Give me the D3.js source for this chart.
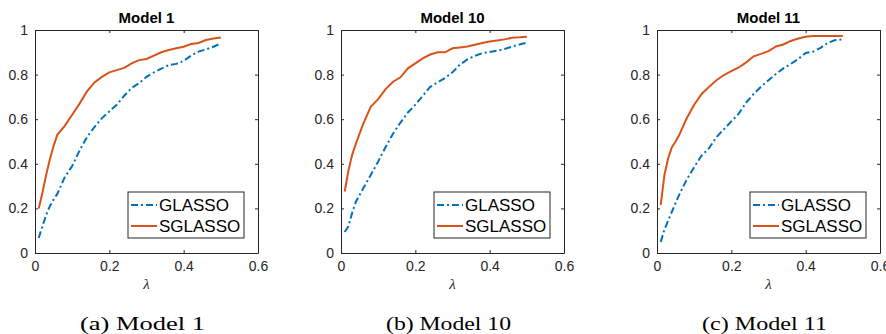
<!DOCTYPE html>
<html>
<head>
<meta charset="utf-8">
<script src="https://cdn.jsdelivr.net/npm/d3@7"></script>
<style>
  body { margin: 0; background: #fff; }
  svg { display: block; }
  .sans { font-family: "Liberation Sans", Arial, Helvetica, sans-serif; }
  .serif { font-family: "Liberation Serif", "Times New Roman", serif; }
</style>
</head>
<body>
<div id="chart"></div>
<script>
// lambda grid shared by all three panels
const lambdas = [0.01, 0.02, 0.03, 0.04, 0.05, 0.06, 0.08, 0.10, 0.12, 0.14, 0.16, 0.18, 0.20, 0.22,
                 0.24, 0.26, 0.28, 0.30, 0.32, 0.34, 0.36, 0.38, 0.40, 0.42, 0.44, 0.46, 0.48, 0.50];

// Model 1
const m1Glasso  = [0.067, 0.12, 0.17, 0.21, 0.24, 0.265, 0.34, 0.39, 0.46, 0.52, 0.565, 0.605, 0.635, 0.665,
                   0.705, 0.74, 0.762, 0.79, 0.81, 0.827, 0.843, 0.848, 0.862, 0.885, 0.903, 0.913, 0.925, 0.94];
const m1Sglasso = [0.20, 0.27, 0.35, 0.42, 0.48, 0.53, 0.57, 0.62, 0.67, 0.725, 0.765, 0.79, 0.81, 0.82,
                   0.83, 0.85, 0.865, 0.87, 0.885, 0.90, 0.91, 0.918, 0.925, 0.937, 0.942, 0.955, 0.962, 0.966];
// Model 10
const m10Glasso  = [0.094, 0.12, 0.18, 0.23, 0.26, 0.29, 0.35, 0.41, 0.475, 0.535, 0.585, 0.63, 0.665, 0.705,
                    0.745, 0.765, 0.785, 0.81, 0.845, 0.868, 0.884, 0.896, 0.901, 0.907, 0.915, 0.925, 0.935, 0.943];
const m10Sglasso = [0.276, 0.37, 0.44, 0.49, 0.535, 0.58, 0.655, 0.69, 0.735, 0.768, 0.788, 0.828, 0.85, 0.873,
                    0.89, 0.90, 0.90, 0.918, 0.922, 0.926, 0.934, 0.942, 0.948, 0.953, 0.958, 0.965, 0.967, 0.97];
// Model 11
const m11Glasso  = [0.05, 0.105, 0.145, 0.185, 0.225, 0.262, 0.33, 0.385, 0.437, 0.47, 0.52, 0.555, 0.59, 0.625,
                    0.675, 0.713, 0.746, 0.775, 0.803, 0.828, 0.848, 0.87, 0.897, 0.903, 0.92, 0.943, 0.955, 0.958];
const m11Sglasso = [0.216, 0.35, 0.425, 0.475, 0.50, 0.53, 0.604, 0.665, 0.713, 0.745, 0.775, 0.798, 0.816, 0.832,
                    0.855, 0.882, 0.893, 0.905, 0.926, 0.935, 0.951, 0.962, 0.97, 0.973, 0.973, 0.973, 0.973, 0.973];

const panelTitles = ["Model 1", "Model 10", "Model 11"];
const captions = ["(a) Model 1", "(b) Model 10", "(c) Model 11"];
const seriesNames = ["GLASSO", "SGLASSO"];
const xTicks = [0, 0.2, 0.4, 0.6];
const yTicks = [0, 0.2, 0.4, 0.6, 0.8, 1];

const panels = [
    { glasso: m1Glasso, sglasso: m1Sglasso },
    { glasso: m10Glasso, sglasso: m10Sglasso },
    { glasso: m11Glasso, sglasso: m11Sglasso }
];

const width = 886, height = 334;
const axColor = "#262626";
const blue = "#0072BD", orange = "#D95319";

const svg = d3.select("#chart").append("svg")
    .attr("width", width)
    .attr("height", height);

// plot box geometry (per panel left edge)
const lefts = [35, 341, 657];
const boxW = 223, boxTop = 30, boxH = 223;

panels.forEach(function (p, i) {
    const x = d3.scaleLinear().domain([0, 0.6]).range([0, boxW]);
    const y = d3.scaleLinear().domain([0, 1]).range([boxH, 0]);

    const g = svg.append("g").attr("transform", `translate(${lefts[i]},${boxTop})`);

    // axes, ticks pointing inward (MATLAB style)
    const fmt = d => d === 0 ? "0" : d === 1 ? "1" : d3.format(".1f")(d);
    const bottom = g.append("g").attr("transform", `translate(0,${boxH})`)
        .call(d3.axisBottom(x).tickValues(xTicks).tickFormat(fmt).tickSizeInner(-3).tickSizeOuter(0).tickPadding(8));
    const left = g.append("g")
        .call(d3.axisLeft(y).tickValues(yTicks).tickFormat(fmt).tickSizeInner(-3).tickSizeOuter(0).tickPadding(7));
    const top = g.append("g")
        .call(d3.axisTop(x).tickValues(xTicks).tickFormat("").tickSizeInner(-3).tickSizeOuter(0));
    const right = g.append("g").attr("transform", `translate(${boxW},0)`)
        .call(d3.axisRight(y).tickValues(yTicks).tickFormat("").tickSizeInner(-3).tickSizeOuter(0));

    [bottom, left, top, right].forEach(a => {
        a.attr("font-family", null).attr("font-size", null);
        a.select(".domain").attr("stroke", axColor).attr("stroke-width", 1);
        a.selectAll(".tick line").attr("stroke", axColor).attr("stroke-width", 1);
        a.selectAll("text").attr("fill", axColor)
            .attr("class", "sans")
            .style("font-size", "14px");
    });

    // curves
    const line = d3.line()
        .x((d, k) => x(lambdas[k]))
        .y(d => y(d));

    g.append("path")
        .datum(p.glasso)
        .attr("fill", "none")
        .attr("stroke", blue)
        .attr("stroke-width", 2)
        .attr("stroke-dasharray", "7,3,2,3")
        .attr("d", line);

    g.append("path")
        .datum(p.sglasso)
        .attr("fill", "none")
        .attr("stroke", orange)
        .attr("stroke-width", 2)
        .attr("d", line);

    // title
    g.append("text")
        .attr("class", "sans")
        .attr("x", boxW / 2)
        .attr("y", -7)
        .attr("text-anchor", "middle")
        .attr("fill", "#000")
        .style("font-weight", "bold")
        .style("font-size", "15px")
        .text(panelTitles[i]);

    // legend, lower right corner
    const lg = g.append("g").attr("transform", `translate(${boxW - 130},${boxH - 61})`);
    lg.append("rect")
        .attr("width", 116).attr("height", 46)
        .attr("fill", "#fff")
        .attr("stroke", axColor)
        .attr("stroke-width", 1);
    seriesNames.forEach(function (name, k) {
        const yy = 13 + k * 21;
        lg.append("line")
            .attr("x1", 3).attr("x2", 29)
            .attr("y1", yy).attr("y2", yy)
            .attr("stroke", k === 0 ? blue : orange)
            .attr("stroke-width", 2)
            .attr("stroke-dasharray", k === 0 ? "7,3,2,3" : null);
        lg.append("text")
            .attr("class", "sans")
            .attr("x", 31).attr("y", yy + 6)
            .attr("fill", "#000")
            .style("font-size", "17px")
            .text(name);
    });

    // x label
    g.append("text")
        .attr("class", "serif")
        .attr("x", boxW / 2)
        .attr("y", boxH + 36)
        .attr("text-anchor", "middle")
        .attr("fill", axColor)
        .style("font-style", "italic")
        .style("font-size", "15px")
        .text("λ");

    // caption under each subplot
    g.append("text")
        .attr("class", "serif")
        .attr("x", boxW / 2 - 4)
        .attr("y", boxH + 77)
        .attr("text-anchor", "middle")
        .attr("fill", "#000")
        .style("font-size", "19px")
        .attr("textLength", 125)
        .attr("lengthAdjust", "spacingAndGlyphs")
        .text(captions[i]);
});
</script>
</body>
</html>
